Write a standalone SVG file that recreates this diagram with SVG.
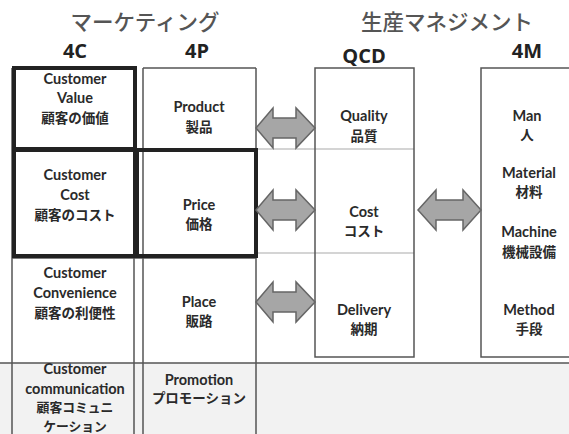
<svg xmlns="http://www.w3.org/2000/svg" width="569" height="434" viewBox="0 0 569 434">
<style>
.t{font-family:Lato,"Noto Sans CJK JP",sans-serif;font-weight:bold;font-size:14.5px;fill:#2a2a2a;text-anchor:middle}
.j{font-family:"Noto Sans CJK JP",sans-serif;font-weight:bold;font-size:13.5px;fill:#2a2a2a;text-anchor:middle}
.js{font-family:"Noto Sans CJK JP",sans-serif;font-weight:bold;font-size:12.8px;fill:#2a2a2a;text-anchor:middle}
.h{font-family:"Noto Sans CJK JP",sans-serif;font-weight:500;font-size:21.5px;fill:#555;text-anchor:middle}
.hd{font-family:"Open Sans","Noto Sans CJK JP",sans-serif;font-weight:bold;font-size:20px;fill:#222;text-anchor:middle}
.thin{fill:none;stroke:#555;stroke-width:1.5}
.lt{fill:none;stroke:#aaa;stroke-width:1.2}
.thick{fill:none;stroke:#222;stroke-width:4}
.arr{fill:#a6a6a6;stroke:#666;stroke-width:1.5;stroke-linejoin:miter}
</style>
<defs>
<path id="dbl" class="arr" d="M0,0 L17,-20 L17,-10 L40,-10 L40,-20 L59,0 L40,20 L40,10 L17,10 L17,20 Z"/>
</defs>
<rect x="0" y="0" width="569" height="434" fill="#fff"/>
<rect x="0" y="363" width="569" height="71" fill="#f2f2f2"/>
<text class="h" x="145" y="30">マーケティング</text>
<text class="h" x="447" y="30">生産マネジメント</text>
<text class="hd" x="75" y="58">4C</text>
<text class="hd" x="197" y="58">4P</text>
<text class="hd" x="364" y="63">QCD</text>
<text class="hd" x="527" y="58">4M</text>
<g id="grid">
<line class="thin" x1="12" y1="68" x2="12" y2="434"/>
<line class="thin" x1="134" y1="68" x2="134" y2="434"/>
<line class="thin" x1="143" y1="68" x2="143" y2="434"/>
<line class="thin" x1="256" y1="68" x2="256" y2="434"/>
<line class="thin" x1="143" y1="68" x2="256" y2="68"/>
<line class="thin" x1="12" y1="258" x2="256" y2="258"/>
<line class="thin" x1="0" y1="363" x2="569" y2="363"/>
<line class="lt" x1="256" y1="149" x2="414" y2="149"/>
<line class="lt" x1="256" y1="253" x2="414" y2="253"/>
</g>
<g id="c-value">
<rect class="thick" x="14" y="68" width="121" height="81"/>
<text class="t" x="75" y="84">Customer</text>
<text class="t" x="75" y="103">Value</text>
<text class="j" x="75" y="123">顧客の価値</text>
</g>
<g id="c-cost">
<rect class="thick" x="14" y="150" width="121" height="106"/>
<text class="t" x="75" y="180">Customer</text>
<text class="t" x="75" y="200">Cost</text>
<text class="j" x="75" y="220">顧客のコスト</text>
</g>
<g id="c-conv">
<text class="t" x="75" y="278">Customer</text>
<text class="t" x="75" y="298">Convenience</text>
<text class="j" x="75" y="318">顧客の利便性</text>
</g>
<g id="c-comm">
<text class="t" x="75" y="374">Customer</text>
<text class="t" x="75" y="394">communication</text>
<text class="js" x="75" y="412">顧客コミュニ</text>
<text class="js" x="75" y="431">ケーション</text>
</g>
<g id="p-product">
<text class="t" x="199" y="112">Product</text>
<text class="j" x="199" y="132">製品</text>
</g>
<g id="p-price">
<rect class="thick" x="137" y="150" width="119" height="106"/>
<text class="t" x="199" y="210">Price</text>
<text class="j" x="199" y="229">価格</text>
</g>
<g id="p-place">
<text class="t" x="199" y="307">Place</text>
<text class="j" x="199" y="326">販路</text>
</g>
<g id="p-promo">
<text class="t" x="199" y="385">Promotion</text>
<text class="j" x="199" y="403">プロモーション</text>
</g>
<g id="qcd">
<rect class="thin" x="315" y="68" width="99" height="289"/>
<text class="t" x="364" y="121">Quality</text>
<text class="j" x="364" y="141">品質</text>
<text class="t" x="364" y="217">Cost</text>
<text class="j" x="364" y="236">コスト</text>
<text class="t" x="364" y="315">Delivery</text>
<text class="j" x="364" y="334">納期</text>
</g>
<g id="m4">
<rect class="thin" x="481" y="68" width="100" height="289"/>
<text class="t" x="527" y="121">Man</text>
<text class="j" x="527" y="140">人</text>
<text class="t" x="529" y="178">Material</text>
<text class="j" x="529" y="197">材料</text>
<text class="t" x="529" y="237">Machine</text>
<text class="j" x="529" y="257">機械設備</text>
<text class="t" x="529" y="315">Method</text>
<text class="j" x="529" y="334">手段</text>
</g>
<g id="connectors">
<use href="#dbl" x="256" y="128"/>
<use href="#dbl" x="256" y="210"/>
<use href="#dbl" x="256" y="302"/>
<path class="arr" d="M418,210 L436,190 L436,200 L463,200 L463,190 L481,210 L463,230 L463,220 L436,220 L436,230 Z"/>
</g>
</svg>
